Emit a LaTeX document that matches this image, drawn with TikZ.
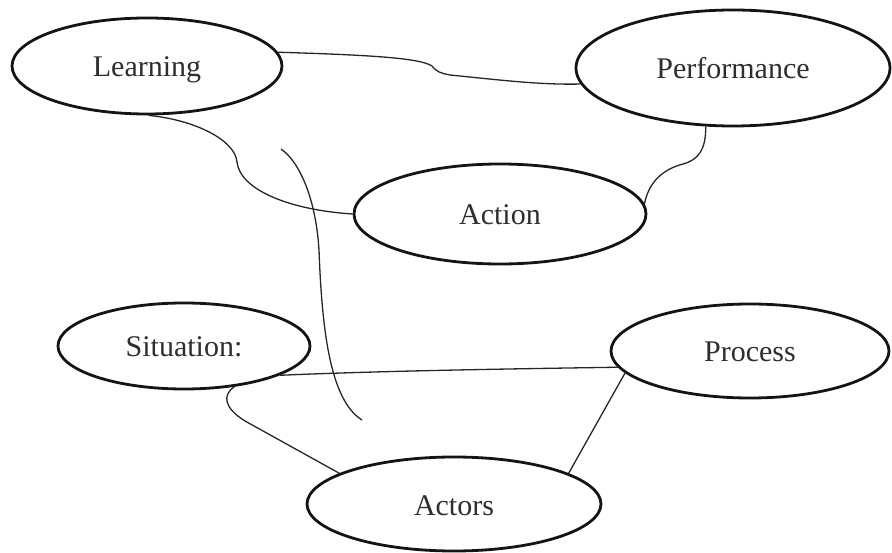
\documentclass[tikz,border=0pt]{standalone}
\usepackage{fontspec}
\setmainfont{Liberation Serif}
\usetikzlibrary{shapes.geometric}
\begin{document}
\begin{tikzpicture}[x=1pt,y=-1pt,
  ell/.style={ellipse,draw=black!92,line width=2.8pt,inner sep=0pt,
    text=black!82,font=\fontsize{30}{36}\selectfont,
    text height=24pt,text depth=2pt},
  link/.style={draw=black!85,line width=1.3pt}]
\useasboundingbox (0,0) rectangle (892,553);
\node[ell,minimum width=270pt,minimum height=96pt] (L) at (147,66) {Learning};
\node[ell,minimum width=314pt,minimum height=116pt] (P) at (733,68) {Performance};
\node[ell,minimum width=292pt,minimum height=100pt] (Ac) at (500,214) {Action};
\node[ell,minimum width=252pt,minimum height=86pt] (S) at (184,346) {Situation:};
\node[ell,minimum width=278pt,minimum height=94pt] (Pr) at (750,351) {Process};
\node[ell,minimum width=294pt,minimum height=94pt] (At) at (454,504) {Actors};
\coordinate (fa) at (281,149);
\coordinate (fb) at (362,420);
% Learning - Performance
\draw[link] (L.6) .. controls (370,55) and (420,58) .. (432,66)
  .. controls (437,72) and (440,73) .. (450,75)
  .. controls (500,80) and (540,85) .. (P.186);
% Learning - Action
\draw[link] (L.272) .. controls (195,120) and (235,140) .. (237,162)
  .. controls (240,190) and (290,210) .. (Ac.west);
% Performance - Action
\draw[link] (P.245) .. controls (706,150) and (698,160) .. (683,164)
  .. controls (660,170) and (648,185) .. (Ac.4);
% free curve
\draw[link] (fa) .. controls (300,162) and (316,200) .. (319,250)
  .. controls (322,330) and (330,400) .. (fb);
% Situation - Process
\draw[link] (S.-17) .. controls (380,371) and (500,369) .. (Pr.187);
% Situation - Actors
\draw[link] (S.-39) .. controls (222,395) and (224,408) .. (245,421) -- (At.165);
% Process - Actors
\draw[link] (Pr.190) -- (At.15);
\end{tikzpicture}
\end{document}
